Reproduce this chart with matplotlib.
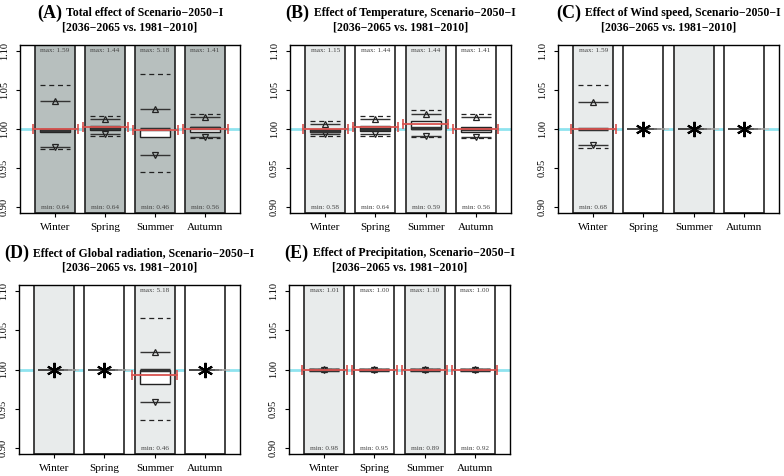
import numpy as np
import matplotlib
matplotlib.use("Agg")
import matplotlib.pyplot as plt
from matplotlib.patches import Rectangle
from matplotlib.collections import LineCollection

plt.rcParams["font.family"] = ["Liberation Serif", "DejaVu Serif"]

seasons = ["Winter", "Spring", "Summer", "Autumn"]
letters = ["(A)", "(B)", "(C)", "(D)", "(E)"]
titles = [
    "Total effect of Scenario\u22122050\u2212I",
    "Effect of Temperature, Scenario\u22122050\u2212I",
    "Effect of Wind speed, Scenario\u22122050\u2212I",
    "Effect of Global radiation, Scenario\u22122050\u2212I",
    "Effect of Precipitation, Scenario\u22122050\u2212I",
]
subtitle = "[2036\u22122065 vs. 1981\u22122010]"

# None = no change in that season (drawn as an asterisk)
upper_dash = [[1.057, 1.017, 1.071, 1.019],
              [1.010, 1.017, 1.024, 1.019],
              [1.057, None, None, None],
              [None, None, 1.066, None],
              [1.0005, 1.0005, 1.0005, 1.0005]]
upper_tri = [[1.036, 1.013, 1.026, 1.016],
             [1.006, 1.013, 1.019, 1.016],
             [1.035, None, None, None],
             [None, None, 1.023, None],
             [1.0003, 1.0003, 1.0003, 1.0003]]
box_hi = [[1.000, 1.004, 1.000, 1.002],
          [0.9996, 1.004, 1.010, 1.002],
          [1.000, None, None, None],
          [None, None, 1.000, None],
          [1.0002, 1.0002, 1.0002, 1.0002]]
box_med = [[0.9985, 1.001, 0.9995, 1.001],
           [0.998, 0.9996, 1.001, 0.9995],
           [1.000, None, None, None],
           [None, None, 1.000, None],
           [1.000, 1.000, 1.000, 1.000]]
box_lo = [[0.9957, 0.9987, 0.990, 0.9965],
          [0.9965, 0.998, 0.9996, 0.9965],
          [1.000, None, None, None],
          [None, None, 0.981, None],
          [0.9998, 0.9998, 0.9998, 0.9998]]
mean_val = [[1.0005, 1.002, 0.9985, 1.000],
            [1.000, 1.002, 1.0065, 1.000],
            [1.0005, None, None, None],
            [None, None, 0.9927, None],
            [1.000, 1.000, 1.000, 1.000]]
lower_tri = [[0.977, 0.993, 0.966, 0.990],
             [0.993, 0.993, 0.991, 0.990],
             [0.979, None, None, None],
             [None, None, 0.958, None],
             [0.9997, 0.9997, 0.9997, 0.9997]]
lower_dash = [[0.974, 0.991, 0.945, 0.989],
              [0.991, 0.991, 0.990, 0.989],
              [0.976, None, None, None],
              [None, None, 0.936, None],
              [0.9995, 0.9995, 0.9995, 0.9995]]
max_lbl = [[1.59, 1.44, 5.18, 1.41],
           [1.15, 1.44, 1.44, 1.41],
           [1.59, None, None, None],
           [None, None, 5.18, None],
           [1.01, 1.00, 1.10, 1.00]]
min_lbl = [[0.64, 0.64, 0.46, 0.56],
           [0.58, 0.64, 0.59, 0.56],
           [0.68, None, None, None],
           [None, None, 0.46, None],
           [0.98, 0.95, 0.89, 0.92]]

W, H = 784, 476
# axes boxes in pixels: left, top, right, bottom
boxes = [(20, 45, 240, 213), (290, 45, 511, 213), (558, 45, 779, 213),
         (19, 285, 240, 454), (289, 285, 510, 454)]

YLIM = (0.892, 1.108)
DARK = "#b7bfbe"
LIGHT = "#e8ebeb"
RED = "#d9534f"


def draw_panel(ax, p):
    ax.set_xlim(0.3, 4.7)
    ax.set_ylim(*YLIM)
    ax.axhline(1.0, color="#8fe3ef", lw=2, zorder=0)
    for j in range(4):
        x = j + 1
        if p == 0:
            fc = DARK
        else:
            fc = LIGHT if j % 2 == 0 else "white"
        ax.add_patch(Rectangle((x - 0.4, YLIM[0]), 0.8, YLIM[1] - YLIM[0],
                               fc=fc, ec="#222222", lw=1.2, zorder=1))
        if upper_dash[p][j] is None:
            # no change: faded line + asterisk
            xs = np.linspace(x - 0.32, x + 0.5, 12)
            segs = [[(xs[k], 1.0), (xs[k + 1], 1.0)] for k in range(11)]
            shade = np.clip((xs[:-1] - (x + 0.1)) / 0.4, 0, 1)
            cols = [(0.15 + 0.75 * s, 0.15 + 0.75 * s, 0.15 + 0.75 * s) for s in shade]
            ax.add_collection(LineCollection(segs, colors=cols, lw=1.2, zorder=3))
            ax.plot(x, 1.0, marker=(6, 2, 0), ms=11, mew=1.5, color="black", zorder=4)
            continue

        ls_dash = (0, (4, 3))
        ax.hlines([upper_dash[p][j], lower_dash[p][j]], x - 0.3, x + 0.3,
                  colors="#222222", lw=0.9, linestyles=ls_dash, zorder=2)
        ax.hlines([upper_tri[p][j], lower_tri[p][j]], x - 0.3, x + 0.3,
                  colors="#333333", lw=1.0, zorder=2)
        ax.plot(x, upper_tri[p][j], marker="^", ms=4, mfc="none",
                mec="#222222", mew=0.9, zorder=3)
        ax.plot(x, lower_tri[p][j], marker="v", ms=4, mfc="none",
                mec="#222222", mew=0.9, zorder=3)
        lo, hi = box_lo[p][j], box_hi[p][j]
        ax.add_patch(Rectangle((x - 0.3, lo), 0.6, hi - lo, fc="white",
                               ec="#222222", lw=1.0, zorder=3))
        ax.hlines(box_med[p][j], x - 0.3, x + 0.3, colors="#333333", lw=2.5, zorder=4)
        m = mean_val[p][j]
        ax.plot([x - 0.45, x + 0.45], [m, m], color=RED, lw=1.3, zorder=5)
        ax.plot([x - 0.45, x + 0.45], [m, m], ls="none", marker="|", ms=7,
                mew=1.2, color=RED, zorder=5)
        ax.text(x, 1.1005, f"max: {max_lbl[p][j]:.2f}", ha="center", va="center",
                fontsize=5.2, color="#444444", zorder=6)
        ax.text(x, 0.8995, f"min: {min_lbl[p][j]:.2f}", ha="center", va="center",
                fontsize=5.2, color="#444444", zorder=6)

    ax.set_xticks(range(1, 5))
    ax.set_xticklabels(seasons, fontsize=8)
    ax.set_yticks([0.90, 0.95, 1.00, 1.05, 1.10])
    ax.set_yticklabels(["0.90", "0.95", "1.00", "1.05", "1.10"], fontsize=7.5,
                       rotation=90, va="center")
    ax.tick_params(axis="x", length=3, width=0.8, pad=4)
    ax.tick_params(axis="y", length=3, width=0.8, pad=5)
    for s in ax.spines.values():
        s.set_linewidth(1.0)
        s.set_zorder(7)


fig = plt.figure(figsize=(W / 100, H / 100), dpi=100)
renderer = fig.canvas.get_renderer()

for p, (l, t, r, b) in enumerate(boxes):
    ax = fig.add_axes([l / W, 1 - b / H, (r - l) / W, (b - t) / H])
    draw_panel(ax, p)

    # title: large letter + bold text, centred over the axes, kept inside figure
    cx = (l + r) / 2
    y1 = 1 - (t - 32) / H
    y2 = 1 - (t - 18) / H
    t_let = fig.text(0, y1, letters[p], fontsize=13, fontweight="bold",
                     ha="left", va="center")
    t_main = fig.text(0, y1, titles[p], fontsize=8.5, fontweight="bold",
                      ha="left", va="center")
    w_let = t_let.get_window_extent(renderer).width
    w_main = t_main.get_window_extent(renderer).width
    gap = 4
    total = w_let + gap + w_main
    x0 = cx - total / 2
    x0 = min(max(x0, 1), W - 2 - total)
    t_let.set_x(x0 / W)
    t_main.set_x((x0 + w_let + gap) / W)
    fig.text(cx / W, y2, subtitle, fontsize=8.5, fontweight="bold",
             ha="center", va="center")

fig.savefig("out.png", dpi=100)
